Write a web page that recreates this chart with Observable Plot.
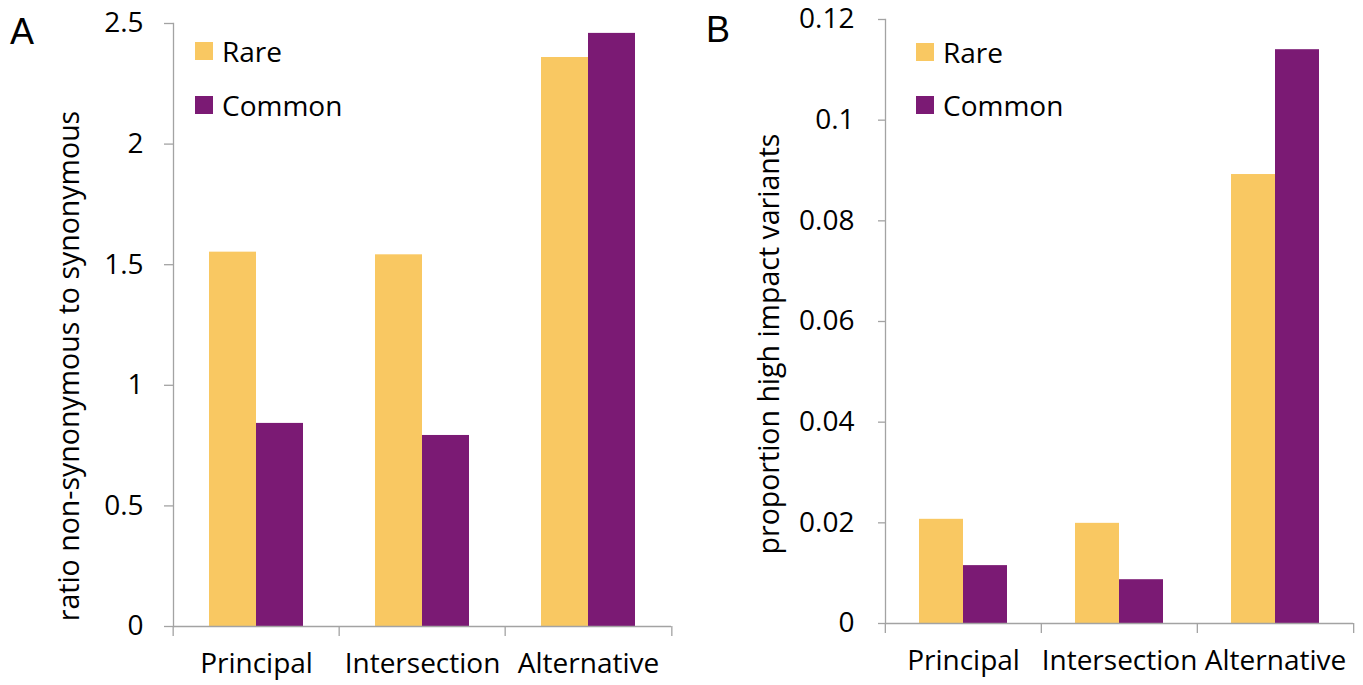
<!DOCTYPE html>
<html><head><meta charset="utf-8">
<script src="https://cdn.jsdelivr.net/npm/d3@7"></script>
<script src="https://cdn.jsdelivr.net/npm/@observablehq/plot@0.6"></script>
<style>
body{margin:0;background:#fff;}
#wrap{position:relative;width:1363px;height:685px;font-family:"Open Sans",sans-serif;color:#000;overflow:hidden;}
.panel{position:absolute;top:0;}
.letter{position:absolute;font-family:"Liberation Sans",Arial,sans-serif;font-size:36px;line-height:1;}
.ylab{position:absolute;white-space:nowrap;font-size:28.5px;line-height:1;transform:translate(-50%,-50%) rotate(-90deg);}
.sw{position:absolute;width:18px;height:18px;}
.lt{position:absolute;font-size:28px;line-height:1;transform:translateY(-50%);white-space:nowrap;}
</style></head><body><div id="wrap"></div>
<script>
const categories = ["Principal", "Intersection", "Alternative"];
const series = ["Rare", "Common"];
const colors = ["#F9C862", "#7B1A74"];
const ratioRare = [1.552, 1.541, 2.359];
const ratioCommon = [0.842, 0.792, 2.459];
const propRare = [0.0207, 0.0199, 0.0892];
const propCommon = [0.0115, 0.0087, 0.1140];
const ratioTicks = [0, 0.5, 1, 1.5, 2, 2.5];
const propTicks = [0, 0.02, 0.04, 0.06, 0.08, 0.1, 0.12];
const panelLetters = ["A", "B"];
const yLabels = ["ratio non-synonymous to synonymous", "proportion high impact variants"];

const wrap = document.getElementById("wrap");
const gray = "#a3a3a3";

function panel(cfg) {
  const data = categories.flatMap((c, i) => [
    {cat: c, s: series[0], v: cfg.rare[i]},
    {cat: c, s: series[1], v: cfg.common[i]}
  ]);
  const facetW = (cfg.width - cfg.marginLeft - cfg.marginRight) / categories.length;
  const chart = Plot.plot({
    width: cfg.width, height: 685,
    marginLeft: cfg.marginLeft, marginRight: cfg.marginRight,
    marginTop: cfg.marginTop, marginBottom: cfg.marginBottom,
    style: {fontFamily: "Open Sans", fontSize: "28px", color: "#000", background: "transparent", overflow: "visible"},
    fx: {domain: categories, padding: 0, axis: null, label: null},
    x: {domain: series, paddingInner: 0, paddingOuter: cfg.outer, axis: null, label: null},
    y: {domain: [cfg.ticks[0], cfg.ticks[cfg.ticks.length - 1]], axis: null, label: null},
    color: {domain: series, range: colors},
    marks: [
      Plot.barY(data, {fx: "cat", x: "s", y: "v", fill: "s"}),
      Plot.ruleY([0], {stroke: gray, strokeWidth: 1.3}),
      Plot.frame({anchor: "left", stroke: gray, strokeWidth: 1.3, facetAnchor: "left"}),
      Plot.axisY({ticks: cfg.ticks, tickSize: cfg.tickSize, tickPadding: cfg.tickPadding, tickFormat: d => String(d), color: "#000", stroke: gray, strokeWidth: 1.3, label: null, fontSize: 28}),
      Plot.axisFx({anchor: "bottom", tickSize: 0, tickPadding: 27, label: null, fontSize: 28, color: "#000"}),
      Plot.axisFx({anchor: "bottom", tickSize: 10, tickFormat: () => "", label: null, stroke: gray, strokeWidth: 1.3, dx: -facetW / 2}),
      Plot.axisFx({anchor: "bottom", ticks: [categories[categories.length - 1]], tickSize: 10, tickFormat: () => "", label: null, stroke: gray, strokeWidth: 1.3, dx: facetW / 2})
    ]
  });
  const div = document.createElement("div");
  div.className = "panel";
  div.style.left = cfg.left + "px";
  div.appendChild(chart);
  wrap.appendChild(div);

  const L = document.createElement("div");
  L.className = "letter";
  L.textContent = cfg.letter;
  L.style.left = cfg.letterX + "px"; L.style.top = cfg.letterY + "px";
  wrap.appendChild(L);

  const Y = document.createElement("div");
  Y.className = "ylab";
  Y.textContent = cfg.ylab;
  Y.style.left = cfg.ylabX + "px"; Y.style.top = cfg.ylabY + "px";
  wrap.appendChild(Y);

  series.forEach((s, i) => {
    const sw = document.createElement("div");
    sw.className = "sw";
    sw.style.background = colors[i];
    sw.style.left = cfg.legX + "px";
    sw.style.top = (cfg.legY + i * cfg.legStep - 9) + "px";
    wrap.appendChild(sw);
    const t = document.createElement("div");
    t.className = "lt";
    t.textContent = s;
    t.style.left = (cfg.legX + 27) + "px";
    t.style.top = (cfg.legY + i * cfg.legStep) + "px";
    wrap.appendChild(t);
  });
}

panel({left: 0, width: 690, marginLeft: 172, marginRight: 18, marginTop: 23, marginBottom: 59,
  outer: 0.74, rare: ratioRare, common: ratioCommon, ticks: ratioTicks, tickSize: 9, tickPadding: 21,
  letter: panelLetters[0], letterX: 10, letterY: 14, ylab: yLabels[0], ylabX: 68, ylabY: 366,
  legX: 195, legY: 51, legStep: 54});
panel({left: 690, width: 673, marginLeft: 194, marginRight: 10, marginTop: 19, marginBottom: 62,
  outer: 0.76, rare: propRare, common: propCommon, ticks: propTicks, tickSize: 7, tickPadding: 24,
  letter: panelLetters[1], letterX: 706, letterY: 12, ylab: yLabels[1], ylabX: 768, ylabY: 344,
  legX: 916, legY: 52, legStep: 53});
</script>
</body></html>
